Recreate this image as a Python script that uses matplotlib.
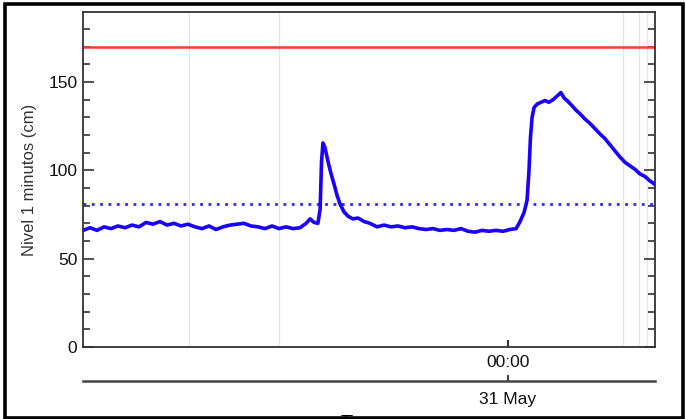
import matplotlib
matplotlib.use('Agg')
import matplotlib.pyplot as plt
from matplotlib.ticker import MultipleLocator, FixedLocator
from matplotlib.patches import Rectangle

plt.rcParams['font.family'] = ['Liberation Sans', 'DejaVu Sans']

# time in hours relative to 31 May 00:00, level in cm
hours = [-15.18, -14.93, -14.68, -14.43, -14.18, -13.93, -13.68, -13.43, -13.18, -12.93,
         -12.68, -12.43, -12.18, -11.93, -11.68, -11.43, -11.18, -10.93, -10.68, -10.43,
         -10.18, -9.93, -9.68, -9.43, -9.18, -8.93, -8.68, -8.43, -8.18, -7.93,
         -7.68, -7.43, -7.21, -7.07, -6.93, -6.79, -6.71, -6.66, -6.61, -6.54,
         -6.43, -6.32, -6.21, -6.11, -6.00, -5.86, -5.71, -5.54, -5.36, -5.14,
         -4.93, -4.68, -4.43, -4.18, -3.93, -3.68, -3.43, -3.18, -2.93, -2.68,
         -2.43, -2.18, -1.93, -1.68, -1.43, -1.18, -0.93, -0.68, -0.43, -0.18,
         0.07, 0.29, 0.43, 0.57, 0.68, 0.75, 0.80, 0.86, 0.93, 1.04,
         1.18, 1.32, 1.46, 1.61, 1.75, 1.89, 2.00, 2.14, 2.29, 2.43,
         2.57, 2.75, 2.93, 3.11, 3.29, 3.46, 3.64, 3.82, 4.00, 4.18,
         4.36, 4.54, 4.71, 4.89, 5.07, 5.25]
nivel = [66, 67.5, 66, 68, 67, 68.5, 67.5, 69, 68, 70.5,
         69.5, 71, 69, 70, 68.5, 69.5, 68, 67, 68.5, 66.5,
         68, 69, 69.5, 70, 68.5, 68, 67, 68.5, 67, 68,
         67, 67.5, 70, 72.5, 70.5, 70, 78, 105, 115.5, 113,
         105, 98, 92, 86, 81, 76.5, 74, 72.5, 73, 71,
         70, 68, 69, 68, 68.5, 67.5, 68, 67, 66.5, 67,
         66, 66.5, 66, 67, 65.5, 65, 66, 65.5, 66, 65.5,
         66.5, 67, 71, 76, 83, 100, 118, 130, 135.5, 137.5,
         138.5, 139.5, 138.5, 140, 142, 144, 141, 139, 136.5, 134,
         132, 129, 126.5, 123.5, 120.5, 118, 114.5, 111, 107.5, 104.5,
         102.5, 100.5, 98, 96.5, 94, 92]

umbral_rojo = 170
umbral_azul = 81
grid_hours = [-11.39, -8.18, 4.11, 4.68, 4.96]
xlim = (-15.18, 5.25)

fig = plt.figure(figsize=(6.86, 4.19), dpi=100)
ax = fig.add_axes([83 / 686, 72 / 419, 572 / 686, 335 / 419])

for g in grid_hours:
    ax.axvline(g, color='#e6e6e6', lw=0.9, zorder=0)

ax.axhline(umbral_rojo, color='#ff3b2b', lw=1.8, zorder=2)
ax.axhline(umbral_azul, color='#2a2aff', lw=2.0, ls=(0, (1, 2)), zorder=2)
ax.plot(hours, nivel, color='#1a00ff', lw=2.6, zorder=3)

ax.set_xlim(*xlim)
ax.set_ylim(0, 189.6)

ax.yaxis.set_major_locator(MultipleLocator(50))
ax.yaxis.set_minor_locator(MultipleLocator(10))
ax.xaxis.set_major_locator(FixedLocator([0]))
ax.set_xticklabels(['00:00'])

ax.tick_params(axis='y', which='both', direction='in', left=True, right=True,
               labelsize=12.5, pad=4, color='#333333', labelcolor='#111111')
ax.tick_params(axis='y', which='major', length=8, width=1.2)
ax.tick_params(axis='y', which='minor', length=5, width=1.2)
ax.tick_params(axis='x', which='major', direction='in', top=True, bottom=True,
               length=5, width=1.5, labelsize=12.5, pad=5.5, color='#333333',
               labelcolor='#111111')

for s in ax.spines.values():
    s.set_color('#333333')
    s.set_linewidth(1.3)

ax.set_ylabel('Nivel 1 minutos (cm)', fontsize=12, color='#333333')
ax.yaxis.set_label_coords(-0.08, 0.5)

# second date axis below the time axis
ax2 = ax.twiny()
ax2.set_xlim(*xlim)
ax2.xaxis.set_ticks_position('bottom')
ax2.xaxis.set_label_position('bottom')
ax2.spines['bottom'].set_position(('outward', 24.5))
for k in ['top', 'left', 'right']:
    ax2.spines[k].set_visible(False)
ax2.spines['bottom'].set_color('#444444')
ax2.spines['bottom'].set_linewidth(1.8)
ax2.xaxis.set_major_locator(FixedLocator([0]))
ax2.set_xticklabels(['31 May'])
ax2.tick_params(axis='x', direction='in', length=4, width=1.5, labelsize=12.5,
                pad=7.7, color='#444444', labelcolor='#111111')
ax2.set_xlabel('Tiempo', fontsize=12.5, labelpad=6)

# outer frame of the picture
fig.patches.append(Rectangle((4.5 / 686, 1.5 / 419), 678 / 686, 413.5 / 419,
                             transform=fig.transFigure, fill=False,
                             edgecolor='black', lw=2.6, zorder=10))

fig.savefig('out.png', dpi=100)
